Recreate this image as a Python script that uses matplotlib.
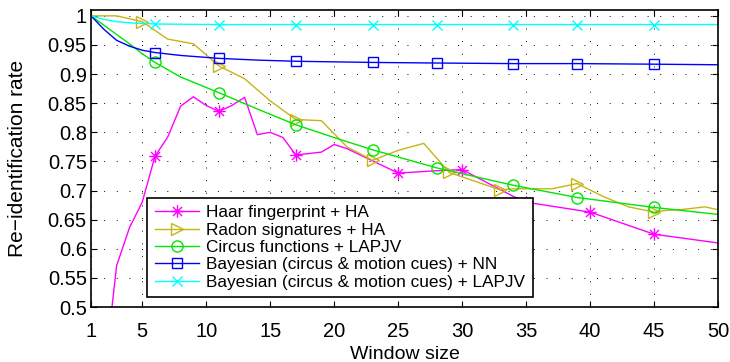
import matplotlib
matplotlib.use('Agg')
import matplotlib.pyplot as plt
from matplotlib.path import Path

# Re-identification rate against window size for each method
haar_x = [2, 3, 4, 5, 6, 7, 8, 9, 10, 11, 12, 13, 14, 15, 16, 17, 19, 20, 21,
          25, 28, 30, 34, 35, 40, 45, 50]
haar_y = [0.375, 0.571, 0.636, 0.680, 0.759, 0.792, 0.845, 0.861, 0.846, 0.836,
          0.846, 0.860, 0.796, 0.800, 0.791, 0.761, 0.766, 0.779, 0.772,
          0.730, 0.734, 0.736, 0.690, 0.680, 0.663, 0.625, 0.610]
haar_marks = [6, 11, 17, 25, 30, 35, 40, 45]

radon_x = [1, 3, 5, 7, 9, 11, 13, 15, 17, 19, 21, 23, 25, 27, 29, 33, 34, 37,
           39, 41, 43, 45, 46, 47, 49, 50]
radon_y = [1.0, 1.0, 0.990, 0.960, 0.952, 0.914, 0.892, 0.854, 0.822, 0.820,
           0.775, 0.752, 0.769, 0.781, 0.731, 0.701, 0.703, 0.703,
           0.712, 0.690, 0.672, 0.663, 0.666, 0.667, 0.672, 0.667]
radon_marks = [5, 11, 17, 23, 29, 33, 39, 45]

circus_x = [1, 2, 3, 4, 5, 6, 8, 11, 14, 17, 20, 23, 28, 34, 39, 45, 50]
circus_y = [1.0, 0.984, 0.968, 0.952, 0.935, 0.920, 0.895, 0.868, 0.840, 0.813,
            0.791, 0.770, 0.739, 0.709, 0.688, 0.671, 0.659]
circus_marks = [6, 11, 17, 23, 28, 34, 39, 45]

bay_nn_x = [1, 2, 3, 4, 5, 6, 8, 11, 14, 17, 23, 28, 34, 39, 45, 50]
bay_nn_y = [1.0, 0.977, 0.958, 0.948, 0.941, 0.937, 0.932, 0.927, 0.924, 0.922,
            0.920, 0.919, 0.918, 0.918, 0.917, 0.916]
bay_nn_marks = [6, 11, 17, 23, 28, 34, 39, 45]

bay_lap_x = [1, 2, 3, 4, 6, 11, 17, 23, 28, 34, 39, 45, 50]
bay_lap_y = [1.0, 0.994, 0.990, 0.988, 0.986, 0.985, 0.985, 0.985, 0.985,
             0.985, 0.985, 0.985, 0.985]
bay_lap_marks = [6, 11, 17, 23, 28, 34, 39, 45]

labels = ['Haar fingerprint + HA',
          'Radon signatures + HA',
          'Circus functions + LAPJV',
          'Bayesian (circus & motion cues) + NN',
          'Bayesian (circus & motion cues) + LAPJV']

xticks = [1, 5, 10, 15, 20, 25, 30, 35, 40, 45, 50]
yticks = [0.5, 0.55, 0.6, 0.65, 0.7, 0.75, 0.8, 0.85, 0.9, 0.95, 1.0]
ytick_labels = ['0.5', '0.55', '0.6', '0.65', '0.7', '0.75', '0.8', '0.85',
                '0.9', '0.95', '1']

# line-drawn asterisk (plus and cross overlaid)
d = 0.72
asterisk = Path([(-1, 0), (1, 0), (0, -1), (0, 1),
                 (-d, -d), (d, d), (-d, d), (d, -d)],
                [Path.MOVETO, Path.LINETO] * 4)

plt.rcParams['font.family'] = ['Liberation Sans', 'DejaVu Sans']

fig = plt.figure(figsize=(7.3, 3.62), dpi=100)
ax = fig.add_axes([0.1247, 0.1519, 0.8589, 0.8204])

series = [
    (haar_x, haar_y, haar_marks, '#ff00ff', asterisk, 9),
    (radon_x, radon_y, radon_marks, '#c8b414', '>', 8),
    (circus_x, circus_y, circus_marks, '#00e600', 'o', 8),
    (bay_nn_x, bay_nn_y, bay_nn_marks, '#0000ff', 's', 6.5),
    (bay_lap_x, bay_lap_y, bay_lap_marks, '#00ffff', 'x', 7),
]
for (x, y, marks, color, marker, ms), label in zip(series, labels):
    idx = [x.index(m) for m in marks]
    ax.plot(x, y, color=color, lw=1.0, marker=marker, ms=ms,
            markevery=idx, markerfacecolor='none', markeredgecolor=color,
            markeredgewidth=1.0, label=label)

ax.set_xlim(1, 50)
ax.set_ylim(0.5, 1.01)
ax.set_xticks(xticks)
ax.set_yticks(yticks)
ax.set_yticklabels(ytick_labels)
ax.tick_params(direction='in', length=4, width=0.8, top=True, right=True,
               labelsize=14.5)
ax.tick_params(axis='x', pad=11)
ax.tick_params(axis='y', pad=3)
ax.grid(True, color='black', lw=0.7, linestyle=(0, (1, 12)))
for s in ax.spines.values():
    s.set_linewidth(1.2)

ax.set_xlabel('Window size', fontsize=14)
ax.set_ylabel('Re\u2212identification rate', fontsize=15)
ax.xaxis.set_label_coords(0.5, -0.132)
ax.yaxis.set_label_coords(-0.102, 0.5)

leg = ax.legend(loc='lower left', bbox_to_anchor=(0.0898, 0.0327),
                fontsize=12.4, frameon=True, fancybox=False, framealpha=1,
                edgecolor='black', borderpad=0.45, labelspacing=0.13,
                handlelength=2.55, handletextpad=0.42, borderaxespad=0)
leg.get_frame().set_linewidth(1.2)
leg.set_zorder(5)

fig.savefig('out.png', dpi=100)
